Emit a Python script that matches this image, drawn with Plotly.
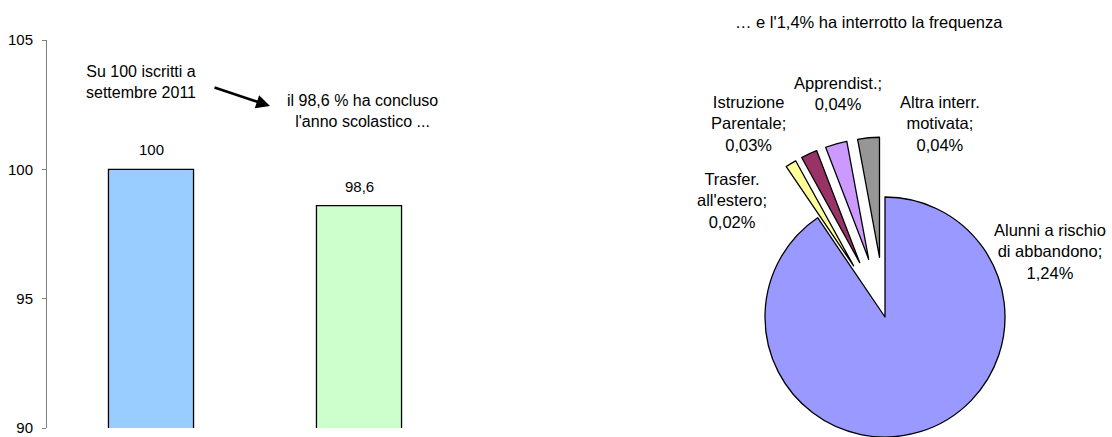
import numpy as np
import plotly.graph_objects as go

# ---------------------------------------------------------------------
# data
# ---------------------------------------------------------------------
bar_cats = ["iscritti", "concluso"]
bar_vals = [100, 98.6]
bar_colors = ["#99CCFF", "#CCFFCC"]

pie_labels = ["Alunni a rischio<br>di abbandono;", "Trasfer.<br>all'estero;",
              "Istruzione<br>Parentale;", "Apprendist.;", "Altra interr.<br>motivata;"]
pie_vals = [1.24, 0.02, 0.03, 0.04, 0.04]
pie_colors = ["#9999FF", "#FFFF99", "#993366", "#CC99FF", "#969696"]
pie_pull = [0, 0.5, 0.5, 0.5, 0.5]

W, H = 1112, 437
FONT = "Liberation Sans, Arial, sans-serif"

fig = go.Figure()

# ---------------------------------------------------------------------
# left: bar chart
# ---------------------------------------------------------------------
fig.add_trace(go.Bar(
    x=bar_cats, y=bar_vals,
    marker=dict(color=bar_colors, line=dict(color="black", width=1.3)),
    showlegend=False, hoverinfo="skip",
))

fig.update_xaxes(domain=[47 / W, 463 / W], showline=False, showticklabels=False,
                 showgrid=False, zeroline=False, automargin=False)
fig.update_yaxes(domain=[9 / H, 397 / H], range=[90, 105], dtick=5,
                 showline=True, linecolor="#808080", linewidth=1,
                 ticks="outside", ticklen=4, tickcolor="#808080",
                 ticklabelstandoff=6,
                 showgrid=False, zeroline=False, automargin=False,
                 tickfont=dict(size=15, color="black"))

# ---------------------------------------------------------------------
# right: exploded pie (one trace per slice so each one moves on its bisector)
# ---------------------------------------------------------------------
cx, cy, r = 885, H - 317, 120
total = sum(pie_vals)
cum = np.cumsum([0] + pie_vals[:-1])
for i, v in enumerate(pie_vals):
    theta = np.deg2rad((cum[i] + v / 2) / total * 360)
    dx = pie_pull[i] * r * np.sin(theta)
    dy = pie_pull[i] * r * np.cos(theta)
    cols = ["rgba(0,0,0,0)"] * len(pie_vals)
    lcols = ["rgba(0,0,0,0)"] * len(pie_vals)
    cols[i] = pie_colors[i]
    lcols[i] = "black"
    x0, y0 = cx + dx, cy + dy
    fig.add_trace(go.Pie(
        values=pie_vals, labels=pie_labels, sort=False,
        direction="clockwise", rotation=0,
        marker=dict(colors=cols, line=dict(color=lcols, width=1.3)),
        textinfo="none", hoverinfo="skip", showlegend=False,
        domain=dict(x=[(x0 - r) / W, (x0 + r) / W],
                    y=[max(0, (y0 - r) / H), min(1, (y0 + r) / H)]),
    ))

# ---------------------------------------------------------------------
# texts
# ---------------------------------------------------------------------
def pct(v):
    return f"{v:.2f}".replace(".", ",") + "%"

def note(text, x, y, size=16):
    return dict(text=text, x=x / W, y=1 - y / H, xref="paper", yref="paper",
                xanchor="center", yanchor="middle", showarrow=False,
                font=dict(size=size, color="black"), align="center")

anns = []
# bar values
for c, v in zip(bar_cats, bar_vals):
    anns.append(dict(text=f"{v:g}".replace(".", ","), x=c, y=v, xref="x", yref="y",
                     xanchor="center", yanchor="bottom", yshift=9, showarrow=False,
                     font=dict(size=15, color="black")))

# pie labels
label_pos = [(1050, 251), (732, 200), (748, 124), (838, 94), (940, 124)]
for lab, v, (x, y) in zip(pie_labels, pie_vals, label_pos):
    anns.append(note(f"{lab}<br>{pct(v)}", x, y, 16.5))

anns.append(note("… e l'1,4% ha interrotto la frequenza", 869, 22, 16.5))
anns.append(note("Su 100 iscritti a<br>settembre 2011", 141, 82))
anns.append(note("il 98,6 % ha concluso<br>l'anno scolastico ...", 362, 111))
anns.append(dict(text="", x=270 / W, y=1 - 106 / H, ax=-57, ay=-19,
                 xref="paper", yref="paper", axref="pixel", ayref="pixel",
                 showarrow=True, arrowhead=2, arrowsize=1.1, arrowwidth=2.5,
                 arrowcolor="black"))

fig.update_layout(
    width=W, height=H,
    margin=dict(l=0, r=0, t=0, b=0),
    paper_bgcolor="white", plot_bgcolor="white",
    font=dict(family=FONT, color="black"),
    bargap=0.591,
    annotations=anns,
)

fig.write_html("out.html", config={"displayModeBar": False},
               post_script="document.body.style.margin='0';")
